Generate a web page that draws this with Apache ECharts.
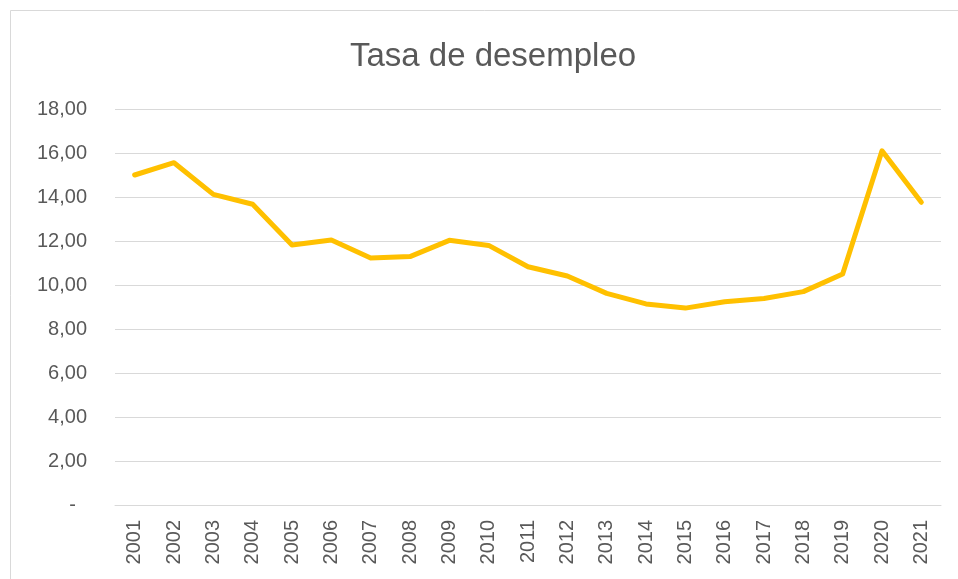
<!DOCTYPE html>
<html>
<head>
<meta charset="utf-8">
<script src="https://cdn.jsdelivr.net/npm/echarts@6/dist/echarts.min.js"></script>
<style>html,body{margin:0;padding:0;background:#fff}#c{width:958px;height:579px}</style>
</head>
<body>
<div id="c"></div>
<script>
const years = ['2001','2002','2003','2004','2005','2006','2007','2008','2009','2010','2011','2012','2013','2014','2015','2016','2017','2018','2019','2020','2021'];
const tasa = [15.0,15.56,14.12,13.67,11.82,12.05,11.23,11.29,12.03,11.8,10.83,10.41,9.62,9.14,8.95,9.24,9.39,9.7,10.5,16.1,13.76];
const yMin = 0, yMax = 18, yStep = 2;

const chart = echarts.init(document.getElementById('c'), null, {renderer:'canvas'});
chart.setOption({
  animation: false,
  backgroundColor: '#fff',
  graphic: [{
    type: 'rect', shape: {x: 10.5, y: 10.5, width: 1000, height: 1000},
    style: {fill: 'none', stroke: '#d9d9d9', lineWidth: 1}, silent: true
  }],
  title: {
    text: 'Tasa de desempleo',
    left: 488, top: 35, textAlign: 'center',
    textStyle: {fontFamily: 'Liberation Sans', fontSize: 33, fontWeight: 'normal', color: '#595959'}
  },
  grid: {left: 115, right: 17, top: 109, bottom: 74, containLabel: false},
  xAxis: {
    type: 'category', data: years, boundaryGap: true,
    axisLine: {lineStyle: {color: '#d9d9d9', width: 1}},
    axisTick: {show: false},
    axisLabel: {rotate: 90, margin: 15, interval: 0, color: '#595959', fontFamily: 'Liberation Sans', fontSize: 20}
  },
  yAxis: {
    type: 'value', min: yMin, max: yMax, interval: yStep,
    axisLine: {show: false}, axisTick: {show: false},
    splitLine: {lineStyle: {color: '#d9d9d9', width: 1}},
    axisLabel: {
      margin: 28, color: '#595959', fontFamily: 'Liberation Sans', fontSize: 20,
      formatter: v => v === 0 ? '-  ' : v.toFixed(2).replace('.', ',')
    }
  },
  series: [{
    type: 'line', data: tasa, symbol: 'none',
    lineStyle: {color: '#FFC000', width: 5, cap: 'round', join: 'round'}
  }]
});
</script>
</body>
</html>
